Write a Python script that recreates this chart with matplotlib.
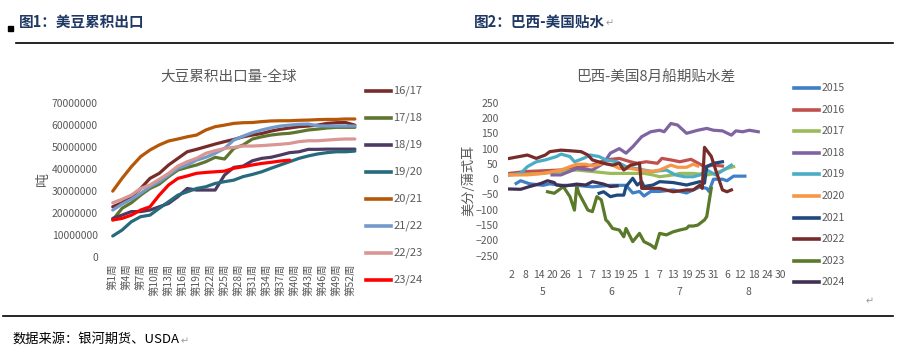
"""
Two panel chart: US soybean cumulative exports and Brazil-US August basis spread.
"""
import matplotlib
matplotlib.use("Agg")
import matplotlib.pyplot as plt
from matplotlib.lines import Line2D
from matplotlib.patches import Rectangle
import matplotlib.transforms as mtrans

plt.rcParams['font.family'] = ['Noto Sans CJK SC', 'DejaVu Sans']

# ---------------- left chart data (tonnes, by marketing-year week) ----------------
WEEKS = [1, 3, 5, 7, 9, 11, 13, 15, 17, 19, 21, 23, 25, 27, 29, 31, 33, 35, 37, 39,
         41, 43, 45, 47, 49, 51, 53]
M = 1e6
EXP_1617 = [22.7, 24.5, 27.3, 31.0, 35.6, 37.9, 41.7, 44.7, 47.7, 48.8, 50.0, 51.2, 52.3, 53.3,
            54.5, 55.3, 56.0, 57.1, 57.9, 58.5, 59.1, 59.4, 59.8, 60.6, 60.9, 61.0, 59.8]
EXP_1718 = [16.7, 22.0, 24.5, 28.0, 31.0, 33.0, 36.4, 39.4, 40.6, 41.7, 43.2, 45.2, 44.4, 49.2,
            50.8, 53.5, 54.5, 55.3, 55.8, 56.1, 56.8, 57.6, 58.0, 58.5, 58.8, 58.8, 58.8]
EXP_1819 = [17.4, 18.9, 20.5, 20.5, 21.2, 22.7, 24.2, 27.3, 31.0, 30.3, 30.3, 30.3, 37.1, 40.6,
            41.2, 43.6, 44.7, 45.2, 46.2, 47.3, 47.7, 48.8, 48.8, 48.9, 48.9, 48.9, 48.9]
EXP_1920 = [9.4, 12.1, 15.9, 18.2, 18.9, 22.0, 25.0, 28.0, 29.5, 31.0, 31.8, 33.3, 34.1, 34.8,
            36.4, 37.4, 38.6, 40.2, 41.7, 43.2, 44.7, 45.8, 46.7, 47.3, 47.7, 47.7, 48.0]
EXP_2021 = [29.8, 35.6, 40.9, 45.5, 48.5, 50.8, 52.6, 53.5, 54.5, 55.3, 57.6, 59.1, 59.8, 60.6,
            60.9, 61.0, 61.4, 61.7, 61.8, 61.8, 62.0, 62.1, 62.3, 62.4, 62.4, 62.6, 62.6]
EXP_2122 = [21.2, 23.9, 26.1, 28.8, 31.8, 34.1, 37.1, 40.2, 41.7, 43.9, 45.2, 47.0, 49.2, 53.0,
            54.8, 56.4, 57.6, 58.6, 59.4, 59.8, 60.2, 60.3, 59.5, 59.4, 59.4, 59.4, 59.4]
EXP_2223 = [24.5, 26.1, 28.0, 31.0, 32.6, 35.2, 37.9, 41.2, 43.2, 44.7, 47.0, 48.2, 49.2, 49.7,
            50.3, 50.3, 50.5, 50.8, 51.1, 51.5, 52.3, 52.7, 52.7, 53.0, 53.3, 53.5, 53.5]
EXP_2324 = [16.7, 17.4, 18.9, 21.2, 22.7, 28.0, 32.6, 35.6, 36.7, 37.9, 38.3, 38.6, 38.9, 40.2,
            40.9, 41.7, 42.4, 42.9, 43.5, 43.9]

LEFT_LABELS = ['16/17', '17/18', '18/19', '19/20', '20/21', '21/22', '22/23', '23/24']
LEFT_VALUES = [EXP_1617, EXP_1718, EXP_1819, EXP_1920, EXP_2021, EXP_2122, EXP_2223, EXP_2324]
LEFT_COLORS = ['#772C2A', '#5F7530', '#4D3B62', '#276A7C', '#B65708', '#729ACA', '#D99694', '#FF0000']
WEEK_TICKS = list(range(1, 53, 3))

# ---------------- right chart data (cents/bu, day index: 1 = May 1) ----------------
D2015 = [4, 6, 10, 16, 19, 24, 31, 38, 46, 53, 56, 59, 61, 64, 68, 74, 80, 83, 86, 89, 90, 92, 96, 98, 101, 106]
V2015 = [-14, -5, -15, -20, -15, -20, -20, -25, -20, -20, -45, -40, -55, -40, -40, -35, -45, -35, -25, -30,
         -40, 0, 0, -5, 10, 10]
D2016 = [1, 8, 24, 38, 44, 50, 55, 58, 62, 67, 69, 73, 77, 82, 84, 88, 92, 96]
V2016 = [19, 25, 30, 46, 63, 68, 57, 52, 57, 52, 68, 63, 57, 65, 57, 41, 46, 43]
D2017 = [1, 16, 31, 38, 46, 53, 61, 65, 68, 74, 77, 83, 89, 93, 98, 101]
V2017 = [14, 19, 30, 25, 19, 19, 19, 14, 8, 14, 19, 19, 14, 19, 35, 41]
D2018 = [20, 24, 31, 38, 43, 46, 50, 53, 56, 60, 64, 68, 70, 73, 76, 80, 85, 89, 92, 96, 100, 102, 105, 108, 112]
V2018 = [14, 14, 35, 30, 52, 85, 100, 85, 106, 139, 155, 160, 155, 182, 177, 150, 160, 166, 160, 158, 144,
         158, 155, 160, 155]
D2019 = [1, 6, 9, 13, 17, 22, 24, 28, 30, 34, 37, 41, 44, 49, 53, 61, 65, 71, 75, 79, 83, 86, 89, 93, 100]
V2019 = [14, 19, 41, 57, 63, 74, 82, 74, 57, 68, 79, 74, 63, 57, 41, 30, 25, 30, 14, 8, 8, 14, 30, 14, 46]
D2020 = [1, 9, 16, 24, 28, 31, 35, 38, 43, 47, 50, 55, 59, 64, 68, 73, 76, 80, 83, 85]
V2020 = [14, 14, 19, 30, 41, 49, 49, 43, 52, 46, 35, 35, 30, 25, 30, 46, 39, 39, 49, 43]
D2021 = [41, 43, 46, 49, 52, 53, 56, 58, 60, 61, 65, 68, 74, 80, 86, 88, 89, 92, 96]
V2021 = [-46, -41, -57, -52, -52, -24, 3, -19, -8, -24, -19, -8, -11, -19, -8, -13, 41, 52, 57]
D2022 = [1, 9, 13, 17, 19, 24, 28, 33, 36, 38, 43, 47, 50, 52, 55, 59, 60, 68, 74, 80, 83, 86, 87, 88,
         91, 93, 96, 98, 100]
V2022 = [68, 79, 68, 79, 90, 95, 93, 90, 79, 63, 52, 46, 52, 30, 46, 52, -30, -30, -41, -35, -35, -19, -30,
         104, 75, 30, -35, -41, -35]
D2023 = [18, 21, 24, 25, 28, 30, 31, 32, 36, 38, 40, 42, 44, 45, 47, 50, 52, 53, 56, 59, 61, 64, 66, 68,
         71, 74, 77, 80, 81, 83, 85, 88, 89, 91]
V2023 = [-41, -46, -30, -24, -57, -101, -24, -46, -101, -106, -57, -68, -133, -140, -161, -166, -188, -161,
         -204, -177, -204, -215, -226, -177, -182, -172, -166, -161, -153, -153, -150, -133, -122, -30]
D2024 = [1, 6, 10, 15, 18, 21, 22, 26, 31, 35, 38, 43, 46, 49]
V2024 = [-32, -33, -24, -14, -5, -11, -19, -22, -16, -19, -8, -16, -24, -22]

RIGHT_LABELS = ['2015', '2016', '2017', '2018', '2019', '2020', '2021', '2022', '2023', '2024']
RIGHT_DAYS = [D2015, D2016, D2017, D2018, D2019, D2020, D2021, D2022, D2023, D2024]
RIGHT_VALUES = [V2015, V2016, V2017, V2018, V2019, V2020, V2021, V2022, V2023, V2024]
RIGHT_COLORS = ['#3F7FC5', '#C0504D', '#9BBB59', '#8064A2', '#4BACC6', '#F79646',
                '#1F497D', '#772C2A', '#5A7A2A', '#403152']
DAY_TICKS = list(range(2, 123, 6))
DAY_LABELS = ['2', '8', '14', '20', '26', '1', '7', '13', '19', '25',
              '1', '7', '13', '19', '25', '31', '6', '12', '18', '24', '30']
MONTHS = ['5', '6', '7', '8']
MONTH_CENTERS = [16, 46.5, 77, 107.5]

GREY = '#595959'
W, H = 902, 361


def px(x, y):
    """pixel position (from top-left) -> figure fraction"""
    return x / W, 1 - y / H


def main():
    fig = plt.figure(figsize=(W / 100, H / 100), dpi=100)

    # ---------- headers / frame ----------
    fig.add_artist(Rectangle(px(8.3, 30.5), 4.4 / W, 4.4 / H, color='black', transform=fig.transFigure))
    fig.text(*px(19, 22), '图1：美豆累积出口', fontsize=10.5, fontweight='bold', color='#1F3864', va='center')
    fig.text(*px(474, 22), '图2：巴西-美国贴水', fontsize=10.5, fontweight='bold', color='#1F3864', va='center')
    fig.text(*px(606, 23), '↵', fontsize=7, color='#999999', va='center')
    fig.add_artist(Line2D([16 / W, 893 / W], [1 - 43.3 / H] * 2, color='black', lw=1.2))
    fig.add_artist(Line2D([3 / W, 893 / W], [1 - 315.7 / H] * 2, color='black', lw=1.2))
    fig.text(*px(866, 301), '↵', fontsize=7, color='#999999', va='center')
    fig.text(*px(12, 340), '数据来源：银河期货、USDA', fontsize=9.5, color='black', va='center')
    fig.text(*px(181, 341), '↵', fontsize=7, color='#999999', va='center')

    # ---------- left chart ----------
    ax1 = fig.add_axes([110.4 / W, 1 - 256.7 / H, (357.2 - 110.4) / W, 154 / H])
    for lab, vals, col in zip(LEFT_LABELS, LEFT_VALUES, LEFT_COLORS):
        ax1.plot(WEEKS[:len(vals)], [v * M for v in vals], color=col, lw=2.3, label=lab,
                 solid_capstyle='round')
    ax1.set_xlim(0.5, 53.5)
    ax1.set_ylim(0, 70000000)
    ax1.set_yticks(range(0, 70000001, 10000000))
    ax1.set_yticklabels([str(v) for v in range(0, 70000001, 10000000)])
    ax1.set_xticks(WEEK_TICKS)
    ax1.set_xticklabels(['第%d周' % w for w in WEEK_TICKS], rotation=90, va='top')
    ax1.tick_params(axis='y', length=0, pad=9, labelsize=7.5, labelcolor=GREY)
    ax1.tick_params(axis='x', length=0, pad=5, labelsize=7.5, labelcolor=GREY)
    for s in ax1.spines.values():
        s.set_visible(False)
    fig.text(*px(229, 77), '大豆累积出口量-全球', fontsize=10.5, color=GREY, ha='center', va='center')
    fig.text(*px(43, 179), '吨', fontsize=10, color=GREY, ha='center', va='center', rotation=90)

    for i, (lab, col) in enumerate(zip(LEFT_LABELS, LEFT_COLORS)):
        y = 90.7 + i * 27.05
        fig.add_artist(Line2D([366 / W, 391 / W], [1 - y / H] * 2, color=col, lw=2.6))
        fig.text(*px(393.5, y), lab, fontsize=8, color=GREY, va='center')

    # ---------- right chart ----------
    ax2 = fig.add_axes([508.3 / W, 1 - 255.7 / H, (784.1 - 508.3) / W, 153 / H])
    for lab, days, vals, col in zip(RIGHT_LABELS, RIGHT_DAYS, RIGHT_VALUES, RIGHT_COLORS):
        ax2.plot(days, vals, color=col, lw=2.3, label=lab)
    ax2.set_xlim(0.5, 123.5)
    ax2.set_ylim(-250, 250)
    ax2.set_yticks(range(-250, 251, 50))
    ax2.set_xticks(DAY_TICKS)
    ax2.set_xticklabels(DAY_LABELS)
    ax2.tick_params(axis='y', length=0, pad=7, labelsize=7.5, labelcolor=GREY)
    ax2.tick_params(axis='x', length=0, pad=10, labelsize=7.5, labelcolor=GREY)
    for s in ax2.spines.values():
        s.set_visible(False)
    trans = mtrans.blended_transform_factory(ax2.transData, fig.transFigure)
    for m, c in zip(MONTHS, MONTH_CENTERS):
        ax2.text(c, 1 - 292 / H, m, transform=trans, fontsize=7.5, color=GREY, ha='center', va='center')
    fig.text(*px(656, 77), '巴西-美国8月船期贴水差', fontsize=10.5, color=GREY, ha='center', va='center')
    fig.text(*px(469, 180), '美分/蒲式耳', fontsize=9.5, color=GREY, ha='center', va='center', rotation=90)

    for i, (lab, col) in enumerate(zip(RIGHT_LABELS, RIGHT_COLORS)):
        y = 88 + i * 21.6
        fig.add_artist(Line2D([794 / W, 819 / W], [1 - y / H] * 2, color=col, lw=2.6))
        fig.text(*px(822, y), lab, fontsize=7.5, color=GREY, va='center')

    fig.savefig('out.png', dpi=100)


if __name__ == "__main__":
    main()
